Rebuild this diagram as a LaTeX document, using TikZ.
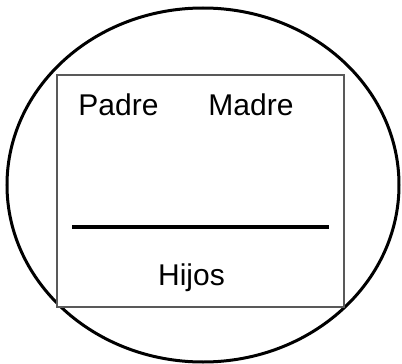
\documentclass[tikz,border=0pt]{standalone}
\usepackage{fontspec}
\setmainfont{Liberation Sans}
\usetikzlibrary{positioning}

\begin{document}
\begin{tikzpicture}[x=1pt, y=-1pt]
\tikzstyle{label} = [anchor=base, inner sep=0pt, font=\fontsize{30}{36}\selectfont]
\tikzstyle{outline} = [draw=black, line width=3pt]
\tikzstyle{frame} = [draw=black!65, line width=1.3pt]
\tikzstyle{bar} = [draw=black, line width=3.5pt]

\useasboundingbox (0,0) rectangle (402,364);

\draw [outline] (203,185) ellipse [x radius=196, y radius=177];
\draw [frame, fill=white] (57,75) rectangle (344,307);

\node (padre) [label] at (118.5,115) {Padre};
\node (madre) [label] at (251,115) {Madre};
\node (hijos) [label] at (191.5,285) {Hijos};

\coordinate (barl) at (72,227);
\coordinate (barr) at (329,227);
\draw [bar] (barl) -- (barr);

\end{tikzpicture}
\end{document}
